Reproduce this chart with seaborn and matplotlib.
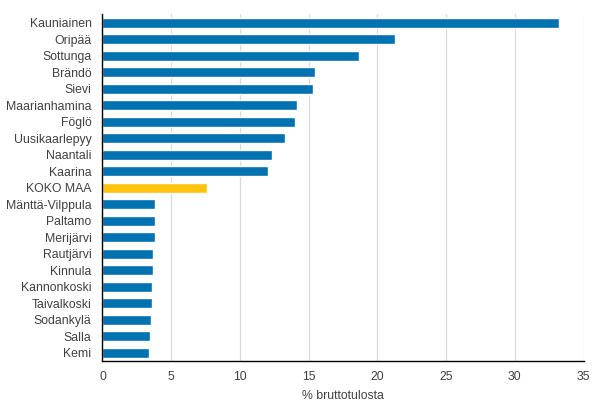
import matplotlib
matplotlib.use("Agg")
import matplotlib.pyplot as plt
import pandas as pd
import seaborn as sns

# data
names = ["Kauniainen", "Oripää", "Sottunga", "Brändö", "Sievi", "Maarianhamina",
         "Föglö", "Uusikaarlepyy", "Naantali", "Kaarina", "KOKO MAA",
         "Mänttä-Vilppula", "Paltamo", "Merijärvi", "Rautjärvi", "Kinnula",
         "Kannonkoski", "Taivalkoski", "Sodankylä", "Salla", "Kemi"]
values = [33.2, 21.3, 18.65, 15.45, 15.3, 14.15, 14.0, 13.3, 12.35, 12.05, 7.6,
          3.82, 3.82, 3.8, 3.68, 3.68, 3.6, 3.6, 3.53, 3.46, 3.38]
x_ticks = [0, 5, 10, 15, 20, 25, 30, 35]

blue = "#0072B2"
yellow = "#FFC20E"
colors = {n: (yellow if n == "KOKO MAA" else blue) for n in names}

df = pd.DataFrame({"Kunta": names, "Arvo": values})

sns.set_theme(style="white")
plt.rcParams['font.family'] = ['Liberation Sans', 'DejaVu Sans']

fig = plt.figure(figsize=(6.05, 4.16), dpi=100)
ax = fig.add_axes([0.1694, 0.1322, 0.7951, 0.8332])

sns.barplot(data=df, x="Arvo", y="Kunta", hue="Kunta", palette=colors,
            legend=False, width=0.62, saturation=1, ax=ax)

ax.set_xlim(0, 35)
ax.set_xticks(x_ticks)
ax.set_xticklabels([str(t) for t in x_ticks])
ax.xaxis.grid(True, color="#d9d9d9", linewidth=0.9)
ax.set_axisbelow(True)
for s in ["top", "right"]:
    ax.spines[s].set_visible(False)
for s in ["left", "bottom"]:
    ax.spines[s].set_color("black")
    ax.spines[s].set_linewidth(1.0)
ax.tick_params(axis="both", length=0, labelsize=8.8, colors="#404040")
ax.tick_params(axis="y", pad=8)
ax.tick_params(axis="x", pad=7)
ax.set_ylabel("")
ax.set_xlabel("% bruttotulosta", fontsize=8.8, color="#404040", labelpad=5)

plt.savefig("out.png", dpi=100)
